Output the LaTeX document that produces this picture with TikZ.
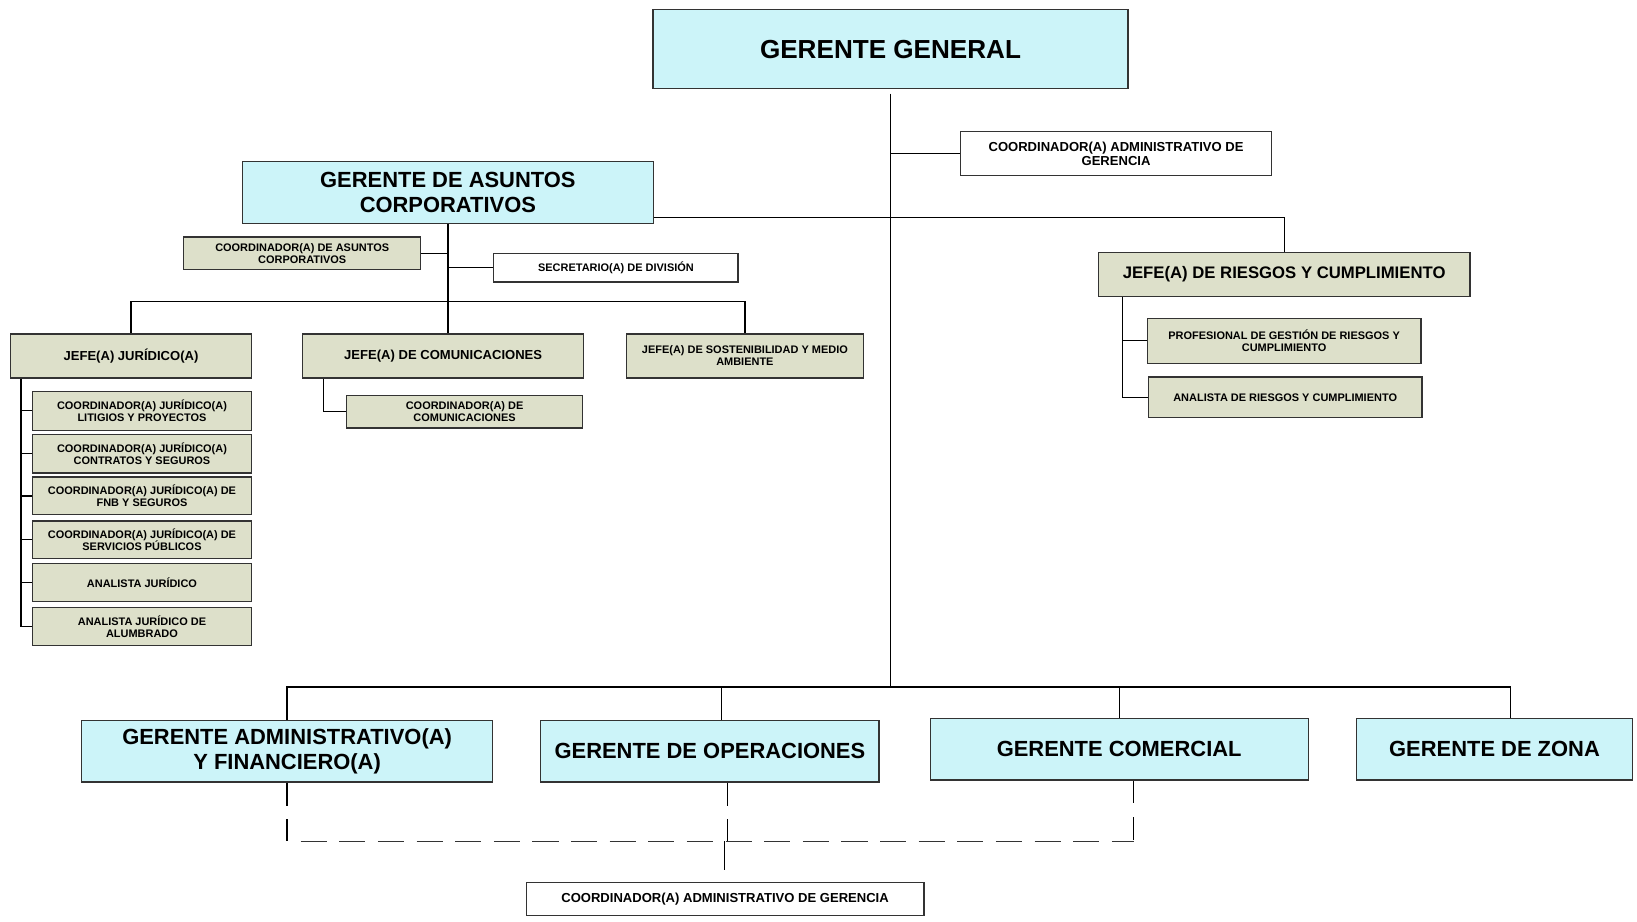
\documentclass[tikz,border=0pt]{standalone}
\usepackage{fontspec}
\setmainfont{Liberation Sans}
\usetikzlibrary{calc}
\definecolor{celeste}{RGB}{204,244,249}
\definecolor{oliva}{RGB}{221,224,202}
\tikzset{
  cargo/.style={draw=black!80, line width=1.2pt, align=center, inner sep=2pt},
  tam/.style 2 args={minimum width=#1pt, minimum height=#2pt},
  gerente/.style={cargo, fill=celeste, font=\bfseries\fontsize{21}{24}\selectfont},
  jefe/.style={cargo, fill=oliva, font=\bfseries\fontsize{12.5}{13.5}\selectfont},
  apoyo/.style={cargo, fill=oliva, font=\bfseries\fontsize{10.5}{11.5}\selectfont},
  staff/.style={cargo, fill=white, font=\bfseries\fontsize{12.5}{13.5}\selectfont},
  staffchico/.style={cargo, fill=white, font=\bfseries\fontsize{10.5}{11.5}\selectfont},
  link/.style={line width=1.2pt, black},
  punteado/.style={line width=1.2pt, black, dash pattern=on 22pt off 13pt},
  punteadoh/.style={line width=1.8pt, black!80, dash pattern=on 25pt off 12pt}
}

\begin{document}
\begin{tikzpicture}[x=1pt,y=-1pt]
      \fill[white] (0,0) rectangle (1568,883);
      \useasboundingbox (0,0) rectangle (1568,883);

      \node[gerente,tam={455}{76},font=\bfseries\fontsize{25}{28}\selectfont] (gg) at (853,47) {GERENTE GENERAL};
      \node[staff,tam={298}{42}] (cag1) at (1069,147) {COORDINADOR(A) ADMINISTRATIVO DE\\GERENCIA};
      \node[gerente,tam={394}{59}] (gac) at (429,184.5) {GERENTE DE ASUNTOS\\CORPORATIVOS};
      \node[apoyo,tam={227}{31}] (cac) at (289.5,242.5) {COORDINADOR(A) DE ASUNTOS\\CORPORATIVOS};
      \node[staffchico,tam={234}{27}] (sec) at (590,256.5) {SECRETARIO(A) DE DIVISIÓN};
      \node[jefe,tam={231}{42}] (jj) at (125.5,341) {JEFE(A) JURÍDICO(A)};
      \node[jefe,tam={269}{42}] (jc) at (424.5,341) {JEFE(A) DE COMUNICACIONES};
      \node[apoyo,tam={227}{42}] (js) at (713.5,341) {JEFE(A) DE SOSTENIBILIDAD Y MEDIO\\AMBIENTE};
      \node[apoyo,tam={226}{31}] (cc) at (445,394.5) {COORDINADOR(A) DE\\COMUNICACIONES};

      \node[apoyo,tam={210}{37}] (j1) at (136,393.5) {COORDINADOR(A) JURÍDICO(A)\\LITIGIOS Y PROYECTOS};
      \node[apoyo,tam={210}{37}] (j2) at (136,434.5) {COORDINADOR(A) JURÍDICO(A)\\CONTRATOS Y SEGUROS};
      \node[apoyo,tam={210}{36}] (j3) at (136,475) {COORDINADOR(A) JURÍDICO(A) DE\\FNB Y SEGUROS};
      \node[apoyo,tam={210}{36}] (j4) at (136,517) {COORDINADOR(A) JURÍDICO(A) DE\\SERVICIOS PÚBLICOS};
      \node[apoyo,tam={210}{36}] (j5) at (136,558) {ANALISTA JURÍDICO};
      \node[apoyo,tam={210}{36}] (j6) at (136,600) {ANALISTA JURÍDICO DE\\ALUMBRADO};

      \node[jefe,tam={356}{42},font=\bfseries\fontsize{16}{19}\selectfont] (jr) at (1230,263) {JEFE(A) DE RIESGOS Y CUMPLIMIENTO};
      \node[apoyo,tam={262}{43}] (pr) at (1230,326.5) {PROFESIONAL DE GESTIÓN DE RIESGOS Y\\CUMPLIMIENTO};
      \node[apoyo,tam={262}{39}] (ar) at (1231,380.5) {ANALISTA DE RIESGOS Y CUMPLIMIENTO};

      \node[gerente,tam={394}{59}] (gaf) at (275,719.5) {GERENTE ADMINISTRATIVO(A)\\Y FINANCIERO(A)};
      \node[gerente,tam={324}{59}] (go) at (680,719.5) {GERENTE DE OPERACIONES};
      \node[gerente,tam={362}{59}] (gc) at (1072,717.5) {GERENTE COMERCIAL};
      \node[gerente,tam={265}{59}] (gz) at (1431.5,717.5) {GERENTE DE ZONA};
      \node[staff,tam={381}{32}] (cag2) at (694.5,861) {COORDINADOR(A) ADMINISTRATIVO DE GERENCIA};

      \coordinate (bus) at (853,658);
      \coordinate (ra) at (626,208);
      \coordinate (hub) at (429,289);
      \coordinate (dl) at (275,806);
      \coordinate (dm) at (694,806);
      \coordinate (dr) at (1086,806);

      \draw[link] ([yshift=-4pt]gg.south) -- (gg.south |- bus);
      \draw[link] (gg.south |- cag1.west) -- (cag1.west);
      \draw[link] (ra) -| (jr.north);
      \draw[link] (gac.south) -- (hub);
      \draw[link] (gac.south |- cac.east) -- (cac.east);
      \draw[link] (gac.south |- sec.west) -- (sec.west);
      \draw[link] (jj.north) |- (hub) -| (js.north);
      \draw[link] (hub) -- (hub |- jc.north);
      \draw[link] (jc.south -| 310,0) |- (cc.west);
      \draw[link] (jj.south -| 20,0) |- (j6.west);
      \foreach \n in {1,...,5}
        \draw[link] (j\n.west -| 20,0) -- (j\n.west);
      \draw[link] (jr.south -| 1075,0) |- (ar.west);
      \draw[link] (pr.west -| 1075,0) -- (pr.west);

      \draw[link] (gaf.north) |- (bus) -| (gz.north -| 1447,0);
      \draw[link] (go.north -| 691,0) -- (bus -| 691,0);
      \draw[link] (gc.north) -- (bus -| gc.north);

      \draw[punteado] (gaf.south) -- (dl);
      \draw[punteado] (go.south -| 697,0) -- (697,806);
      \draw[punteado] (gc.south -| 1086,0) -- (dr);
      \draw[punteadoh,shorten <=13pt] (dl) -- (dr);
      \draw[link,shorten >=11pt] (dm) -- (dm |- cag2.north);
\end{tikzpicture}
\end{document}
